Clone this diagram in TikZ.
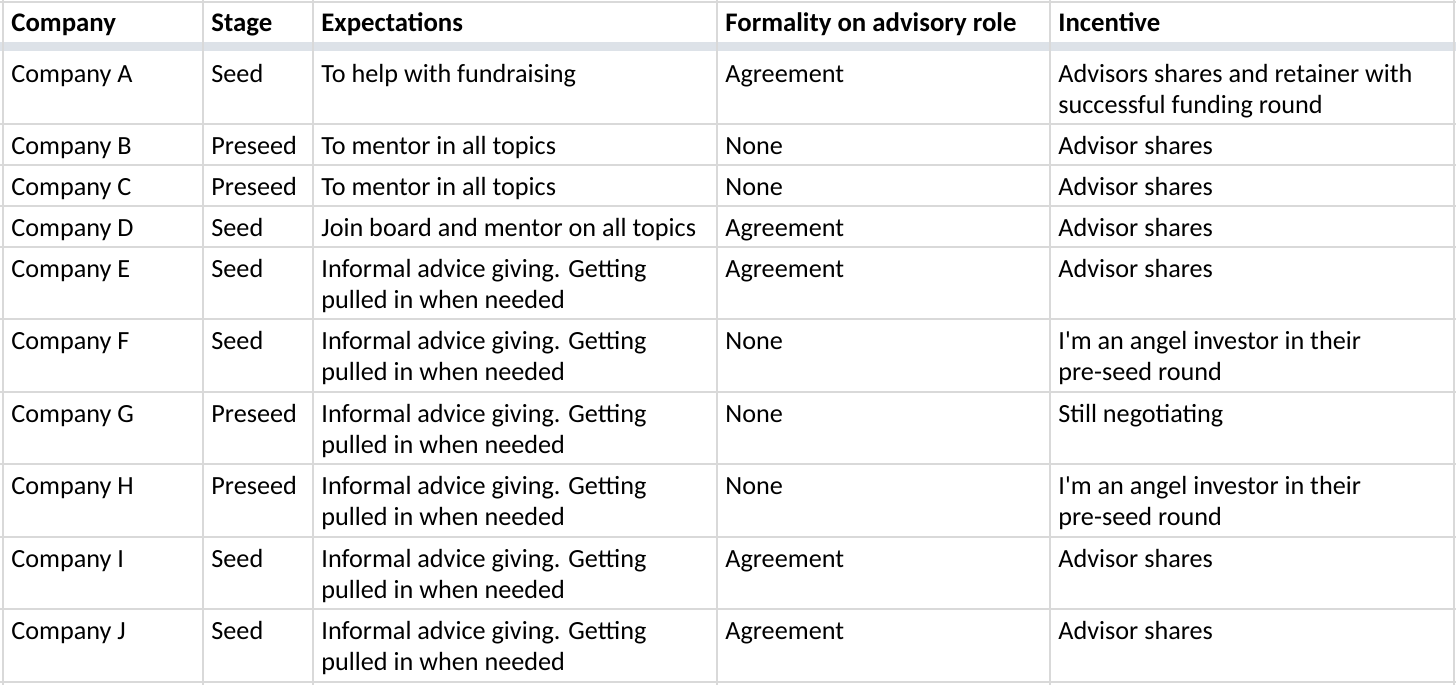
\documentclass[tikz,border=0pt]{standalone}
\usepackage{fontspec}
\setmainfont{Carlito}
\usepackage{tikz}

\definecolor{gridgray}{HTML}{D9D9D9}
\definecolor{headband}{HTML}{DDE2E8}

% cell text, baseline on its first line
\newcommand{\celltext}[1]{\begin{tabular}[t]{@{}l@{}}#1\end{tabular}}

\tikzset{
  cell/.style={anchor=base west, inner sep=0pt,
    font=\fontsize{13.1}{15.5}\selectfont},
  headcell/.style={cell, font=\fontsize{13.4}{15.5}\selectfont\bfseries},
  rule/.style={draw=gridgray, line width=1pt}
}

\begin{document}
\begin{tikzpicture}[x=0.5pt,y=-0.5pt]
  \useasboundingbox (0,0) rectangle (1456,685);
  \fill[white] (0,0) rectangle (1456,685);

  % header band
  \fill[headband] (0,42) rectangle (1456,51);

  % horizontal rules
  \foreach \y in {2,124,165,206,247,319,392,464,537,609,682}
    \draw[rule] (0,\y) -- (1456,\y);

  % vertical rules
  \foreach \x in {3,203,313,717,1050,1454}
    \draw[rule] (\x,0) -- (\x,685);

  % header
  \node[headcell] (hcomp) at (11,32) {Company};
  \node[headcell] (hstage) at (211,32) {Stage};
  \node[headcell] (hexp) at (321,32) {Expectations};
  \node[headcell] (hform) at (725,32) {Formality on advisory role};
  \node[headcell] (hinc) at (1058,32) {Incentive};

  % rows
  \foreach \y/\c/\s/\e/\f/\i in {
      52/A/Seed/{To help with fundraising}/Agreement/{Advisors shares and retainer with\\successful funding round},
      124/B/Preseed/{To mentor in all topics}/None/{Advisor shares},
      165/C/Preseed/{To mentor in all topics}/None/{Advisor shares},
      206/D/Seed/{Join board and mentor on all topics}/Agreement/{Advisor shares},
      247/E/Seed/{Informal advice giving. Getting\\pulled in when needed}/Agreement/{Advisor shares},
      319/F/Seed/{Informal advice giving. Getting\\pulled in when needed}/None/{I\textquotesingle m an angel investor in their\\pre-seed round},
      392/G/Preseed/{Informal advice giving. Getting\\pulled in when needed}/None/{Still negotiating},
      464/H/Preseed/{Informal advice giving. Getting\\pulled in when needed}/None/{I\textquotesingle m an angel investor in their\\pre-seed round},
      537/I/Seed/{Informal advice giving. Getting\\pulled in when needed}/Agreement/{Advisor shares},
      609/J/Seed/{Informal advice giving. Getting\\pulled in when needed}/Agreement/{Advisor shares}}
  {
    \node[cell] (comp\c) at (11,\y+30) {Company \c};
    \node[cell] (stage\c) at (211,\y+30) {\s};
    \node[cell] (exp\c) at (321,\y+30) {\celltext{\e}};
    \node[cell] (form\c) at (725,\y+30) {\f};
    \node[cell] (inc\c) at (1058,\y+30) {\celltext{\i}};
  }
\end{tikzpicture}
\end{document}
